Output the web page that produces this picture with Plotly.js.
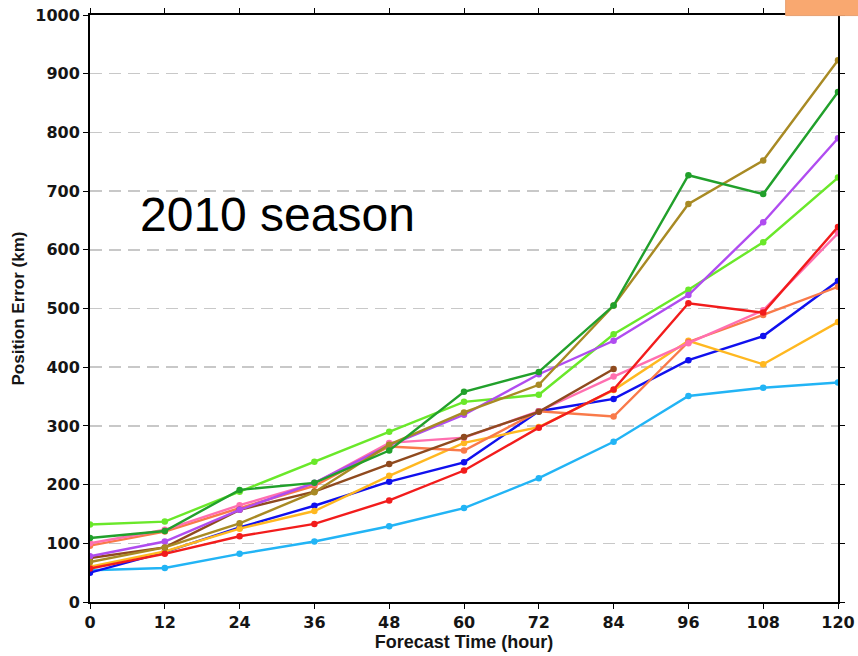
<!DOCTYPE html>
<html>
<head>
<meta charset="utf-8">
<script src="https://cdn.plot.ly/plotly-3.0.1.min.js"></script>
<style>html,body{margin:0;padding:0;background:#fff;}#chart{width:858px;height:656px;}</style>
</head>
<body>
<div id="chart"></div>
<script>
const hours = [0, 12, 24, 36, 48, 60, 72, 84, 96, 108, 120];
const hoursBrown = [0, 12, 24, 36, 48, 60, 72, 84];
const tickLabels = ["0","12","24","36","48","60","72","84","96","108","120"];
const yTicks = [0,100,200,300,400,500,600,700,800,900,1000];

const limeVals   = [132, 137, 188, 239, 290, 341, 353, 456, 532, 613, 723];
const greenVals  = [109, 121, 191, 203, 258, 358, 392, 505, 727, 695, 869];
const oliveVals  = [68, 93, 134, 187, 268, 323, 370, 505, 678, 752, 923];
const purpleVals = [78, 103, 157, 203, 267, 319, 388, 445, 523, 647, 790];
const pinkVals   = [100, 123, 165, 202, 271, 280, 325, 384, 441, 497, 628];
const coralVals  = [96, 120, 160, 198, 265, 258, 325, 316, 443, 489, 537];
const brownVals  = [75, 93, 157, 188, 235, 281, 324, 397];
const orangeVals = [60, 86, 125, 155, 215, 271, 298, 361, 445, 405, 477];
const redVals    = [57, 82, 112, 133, 173, 224, 297, 362, 509, 493, 639];
const blueVals   = [50, 85, 127, 164, 205, 238, 325, 346, 412, 453, 547];
const skyVals    = [54, 58, 82, 103, 129, 160, 211, 273, 351, 365, 374];

function tr(x, y, color) {
  return {x: x, y: y, type: 'scatter', mode: 'lines+markers',
    line: {color: color, width: 2.4}, marker: {color: color, size: 6.5},
    showlegend: false, hoverinfo: 'skip'};
}
const data = [
  tr(hours, skyVals, '#22b4f5'),
  tr(hours, blueVals, '#1010ee'),
  tr(hours, orangeVals, '#ffb820'),
  tr(hours, coralVals, '#f97a4a'),
  tr(hours, pinkVals, '#ff6fb0'),
  tr(hours, redVals, '#f21c1c'),
  tr(hoursBrown, brownVals, '#8f4a1e'),
  tr(hours, limeVals, '#6ae82a'),
  tr(hours, purpleVals, '#b04cf0'),
  tr(hours, oliveVals, '#a88a24'),
  tr(hours, greenVals, '#21a02b')
];

const tickFont = {family: 'DejaVu Sans, sans-serif', size: 16, color: '#151515', weight: 'bold'};
const layout = {
  width: 858, height: 656,
  margin: {l: 90, r: 20, t: 15, b: 54},
  paper_bgcolor: '#fff', plot_bgcolor: '#fff',
  font: {family: 'Liberation Sans, Arial, sans-serif'},
  xaxis: {
    range: [0, 120], tickvals: hours, ticktext: tickLabels,
    showgrid: false, zeroline: false,
    showline: true, linecolor: '#000', linewidth: 2, mirror: 'ticks',
    ticks: 'outside', ticklen: 5, tickcolor: '#000', tickwidth: 1,
    tickfont: tickFont,
    title: {text: '<b>Forecast Time (hour)</b>', font: {size: 18, color: '#151515'}, standoff: 2}
  },
  yaxis: {
    range: [0, 1000], tickvals: yTicks,
    showgrid: true, gridcolor: '#c8c8c8', gridwidth: 1.5, griddash: '12px,7px',
    zeroline: false,
    showline: true, linecolor: '#000', linewidth: 2, mirror: 'ticks',
    ticks: 'outside', ticklen: 5, tickcolor: '#000', tickwidth: 1,
    tickfont: tickFont,
    title: {text: '<b>Position Error (km)</b>', font: {size: 17, color: '#151515'}, standoff: 6}
  },
  annotations: [{
    xref: 'paper', yref: 'paper', x: 0.064, y: 0.66, xanchor: 'left', yanchor: 'middle',
    text: '2010 season', showarrow: false,
    font: {family: 'Liberation Sans, Arial, sans-serif', size: 48, color: '#000'}
  }],
  shapes: [{
    type: 'rect', xref: 'paper', yref: 'paper',
    x0: 0.93, x1: 1.05, y0: 0.999, y1: 1.05,
    fillcolor: '#f9a870', line: {color: '#e8a070', width: 1}
  }]
};
Plotly.newPlot('chart', data, layout, {displayModeBar: false, staticPlot: true});
</script>
</body>
</html>
